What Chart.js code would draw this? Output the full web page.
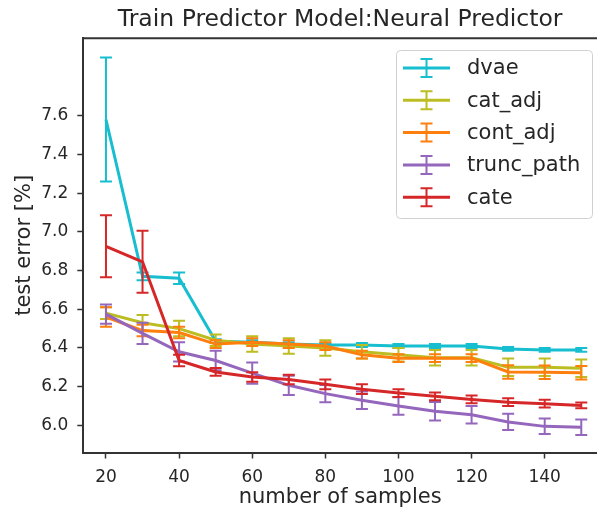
<!DOCTYPE html>
<html>
<head>
<meta charset="utf-8">
<script src="https://cdn.jsdelivr.net/npm/chart.js@4/dist/chart.umd.min.js"></script>
<style>
    html, body { margin: 0; padding: 0; background: #fff; }
</style>
</head>
<body>
<canvas id="chart" width="597" height="512"></canvas>
<script>
const samples = [20, 30, 40, 50, 60, 70, 80, 90, 100, 110, 120, 130, 140, 150];

const dvae = [7.58, 6.77, 6.76, 6.435, 6.43, 6.42, 6.415, 6.415, 6.41, 6.41, 6.41, 6.395, 6.39, 6.39];
const dvaeErr = [0.32, 0.02, 0.03, 0.01, 0.01, 0.01, 0.01, 0.01, 0.01, 0.01, 0.01, 0.01, 0.01, 0.01];

const catAdj = [6.58, 6.53, 6.50, 6.44, 6.42, 6.41, 6.40, 6.38, 6.365, 6.35, 6.35, 6.30, 6.30, 6.295];
const catAdjErr = [0.03, 0.04, 0.04, 0.03, 0.04, 0.04, 0.04, 0.035, 0.035, 0.04, 0.04, 0.045, 0.045, 0.045];

const contAdj = [6.56, 6.49, 6.48, 6.42, 6.43, 6.42, 6.41, 6.365, 6.347, 6.347, 6.347, 6.276, 6.275, 6.272];
const contAdjErr = [0.05, 0.03, 0.03, 0.02, 0.02, 0.02, 0.02, 0.02, 0.02, 0.02, 0.02, 0.035, 0.035, 0.035];

const truncPath = [6.575, 6.475, 6.38, 6.335, 6.27, 6.207, 6.164, 6.13, 6.10, 6.073, 6.055, 6.018, 5.995, 5.99];
const truncPathErr = [0.05, 0.055, 0.05, 0.05, 0.055, 0.05, 0.045, 0.045, 0.045, 0.048, 0.045, 0.042, 0.04, 0.04];

const cate = [6.925, 6.845, 6.335, 6.276, 6.25, 6.237, 6.212, 6.187, 6.167, 6.15, 6.134, 6.12, 6.112, 6.103];
const cateErr = [0.16, 0.16, 0.03, 0.02, 0.025, 0.025, 0.025, 0.025, 0.02, 0.02, 0.02, 0.02, 0.02, 0.015];

const xTicks = [20, 40, 60, 80, 100, 120, 140];
const yTicks = [6.0, 6.2, 6.4, 6.6, 6.8, 7.0, 7.2, 7.4, 7.6];

const seriesNames = ['dvae', 'cat_adj', 'cont_adj', 'trunc_path', 'cate'];
const seriesValues = [dvae, catAdj, contAdj, truncPath, cate];
const seriesErrors = [dvaeErr, catAdjErr, contAdjErr, truncPathErr, cateErr];
const COLORS = ['#17becf', '#bcbd22', '#ff7f0e', '#9467bd', '#d62728'];

const textColor = '#262626';
const axisColor = '#333';
const FONT = 'DejaVu Sans';

// matplotlib style error bars, drawn through the chart scales
const errorBars = {
    id: 'errorBars',
    afterDatasetDraw(chart, args) {
        const ds = chart.data.datasets[args.index];
        const { x, y } = chart.scales;
        const ctx = chart.ctx;
        ctx.save();
        ctx.strokeStyle = ds.borderColor;
        ctx.lineWidth = 2;
        ds.data.forEach((p, i) => {
            const px = x.getPixelForValue(p.x);
            const top = y.getPixelForValue(p.y + ds.errors[i]);
            const bot = y.getPixelForValue(p.y - ds.errors[i]);
            ctx.beginPath();
            ctx.moveTo(px, top); ctx.lineTo(px, bot);
            ctx.moveTo(px - 6, top); ctx.lineTo(px + 6, top);
            ctx.moveTo(px - 6, bot); ctx.lineTo(px + 6, bot);
            ctx.stroke();
        });
        ctx.restore();
    },
};

// top spine + legend box in the upper right corner
const frameAndLegend = {
    id: 'frameAndLegend',
    afterDraw(chart) {
        const ctx = chart.ctx;
        const area = chart.chartArea;
        ctx.save();
        ctx.strokeStyle = axisColor;
        ctx.lineWidth = 2;
        ctx.beginPath();
        ctx.moveTo(area.left - 1, area.top);
        ctx.lineTo(area.right, area.top);
        ctx.stroke();

        const bx = 396, by = 50, bw = 196, bh = 168;
        ctx.fillStyle = 'rgba(255,255,255,0.8)';
        ctx.strokeStyle = '#d0d0d0';
        ctx.lineWidth = 1;
        ctx.beginPath();
        ctx.roundRect(bx + 0.5, by + 0.5, bw, bh, 4);
        ctx.fill();
        ctx.stroke();

        ctx.font = '21px "' + FONT + '"';
        ctx.textBaseline = 'middle';
        ctx.textAlign = 'left';
        chart.data.datasets.forEach((ds, i) => {
            const cy = 68 + i * 32.3;
            ctx.strokeStyle = ds.borderColor;
            ctx.lineWidth = 3;
            ctx.beginPath();
            ctx.moveTo(403, cy); ctx.lineTo(450, cy);
            ctx.stroke();
            ctx.lineWidth = 2;
            ctx.beginPath();
            ctx.moveTo(426.5, cy - 9); ctx.lineTo(426.5, cy + 9);
            ctx.moveTo(420.5, cy - 9); ctx.lineTo(432.5, cy - 9);
            ctx.moveTo(420.5, cy + 9); ctx.lineTo(432.5, cy + 9);
            ctx.stroke();
            ctx.fillStyle = textColor;
            ctx.fillText(ds.label, 467, cy + 1);
        });
        ctx.restore();
    },
};

const datasets = seriesNames.map((name, i) => ({
    label: name,
    data: samples.map((s, j) => ({ x: s, y: seriesValues[i][j] })),
    errors: seriesErrors[i],
    borderColor: COLORS[i],
    backgroundColor: COLORS[i],
    borderWidth: 3,
    pointRadius: 0,
    fill: false,
    tension: 0,
    order: seriesNames.length - i,
}));

new Chart(document.getElementById('chart'), {
    type: 'line',
    data: { datasets },
    plugins: [errorBars, frameAndLegend],
    options: {
        responsive: false,
        animation: false,
        devicePixelRatio: 1,
        layout: { padding: 0 },
        plugins: {
            legend: { display: false },
            tooltip: { enabled: false },
            title: {
                display: true,
                fullSize: false,
                text: 'Train Predictor Model:Neural Predictor',
                color: textColor,
                font: { family: FONT, size: 23.5, weight: 'normal' },
                padding: { top: 6, bottom: 4 },
            },
        },
        scales: {
            x: {
                type: 'linear',
                min: 13.8,
                max: 154.3,
                afterBuildTicks: s => { s.ticks = xTicks.map(v => ({ value: v })); },
                afterFit: s => { s.height = 59.5; },
                grid: { drawOnChartArea: false, tickLength: 6, color: axisColor, tickWidth: 1.5 },
                border: { color: axisColor, width: 2 },
                ticks: {
                    color: textColor,
                    font: { family: FONT, size: 17 },
                    padding: 9,
                    maxRotation: 0,
                    autoSkip: false,
                    callback: v => String(v),
                },
                title: {
                    display: true,
                    text: 'number of samples',
                    color: textColor,
                    font: { family: FONT, size: 21 },
                    padding: { top: 0, bottom: 2 },
                },
            },
            y: {
                type: 'linear',
                min: 5.86,
                max: 8.0,
                afterBuildTicks: s => { s.ticks = yTicks.map(v => ({ value: v })); },
                afterFit: s => { s.width = 83.3; },
                grid: { drawOnChartArea: false, tickLength: 6, color: axisColor, tickWidth: 1.5 },
                border: { color: axisColor, width: 2 },
                ticks: {
                    color: textColor,
                    font: { family: FONT, size: 17 },
                    padding: 9,
                    autoSkip: false,
                    callback: v => v.toFixed(1),
                },
                title: {
                    display: true,
                    text: 'test error [%]',
                    color: textColor,
                    font: { family: FONT, size: 21 },
                    padding: { top: 12, bottom: 0 },
                },
            },
        },
    },
});
</script>
</body>
</html>
